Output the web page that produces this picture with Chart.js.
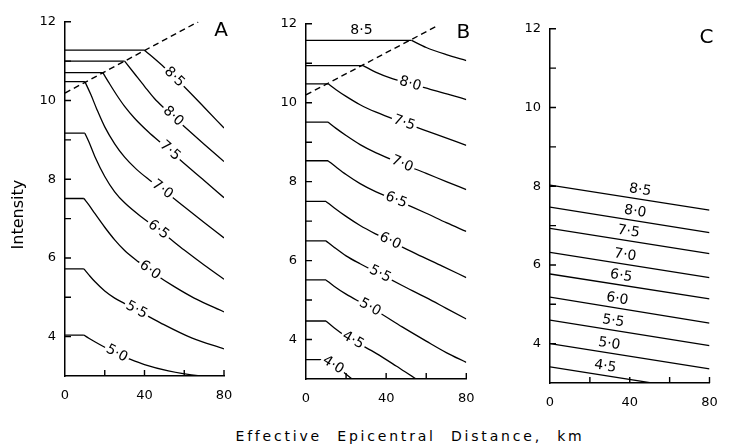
<!DOCTYPE html>
<html lang="en">
<head>
  <meta charset="UTF-8">
  <title>Intensity vs Effective Epicentral Distance</title>
  <script src="https://cdn.jsdelivr.net/npm/chart.js"></script>
  <style>
    body { margin: 0; background: #fff; }
    #wrap { position: relative; width: 734px; height: 447px; overflow: hidden; background: #fff; }
    #wrap canvas { position: absolute; }
    #xtitle {
      position: absolute; top: 428px; left: 0; width: 820px; text-align: center;
      font: 14px "DejaVu Sans", sans-serif; letter-spacing: 2.8px; word-spacing: 8px; color: #000;
    }
  </style>
</head>
<body>
  <div id="wrap">
    <div id="xtitle">Effective Epicentral Distance, km</div>
  </div>
  <script>
    // axes
    const distTicks = [0, 20, 40, 60, 80];
    const distLabels = [0, 40, 80];
    const intensityRange = [3, 12];
    const intensityLabels = [4, 6, 8, 10, 12];
    const magnitudes = ['8·5', '8·0', '7·5', '7·0', '6·5', '6·0', '5·5', '5·0', '4·5', '4·0'];

    // Panel A  [distance km, intensity]
    const a85 = [[0, 11.28], [40, 11.28], [50, 10.84], [60, 10.35], [70, 9.83], [80, 9.3]];
    const a80 = [[0, 11.0], [30, 11.0], [35, 10.68], [40, 10.36], [45, 10.05], [50, 9.8], [60, 9.34], [70, 8.89], [80, 8.45]];
    const a75 = [[0, 10.71], [19, 10.71], [22, 10.46], [26, 10.14], [30, 9.85], [35, 9.55], [42, 9.2], [50, 8.85], [60, 8.4], [70, 7.97], [80, 7.53]];
    const a70 = [[0, 10.48], [10, 10.48], [13, 10.15], [16, 9.78], [20, 9.33], [25, 8.9], [30, 8.56], [36, 8.25], [42, 8.0], [50, 7.7], [60, 7.3], [70, 6.9], [80, 6.51]];
    const a65 = [[0, 9.17], [10, 9.17], [12, 8.95], [15, 8.58], [20, 8.07], [25, 7.68], [30, 7.4], [40, 6.98], [50, 6.6], [60, 6.2], [70, 5.82], [80, 5.46]];
    const a60 = [[0, 7.51], [9.5, 7.51], [12, 7.35], [15, 7.13], [20, 6.78], [25, 6.46], [30, 6.19], [37, 5.9], [45, 5.6], [55, 5.27], [65, 4.98], [80, 4.63]];
    const a55 = [[0, 5.72], [9.5, 5.72], [12, 5.57], [15, 5.4], [20, 5.16], [25, 4.98], [30, 4.84], [36, 4.68], [48, 4.35], [64, 3.96], [80, 3.69]];
    const a50 = [[0, 4.04], [9.5, 4.04], [12, 3.96], [15, 3.87], [20, 3.73], [26, 3.57], [33, 3.42], [40, 3.29], [52, 3.13], [68, 3.0], [80, 2.95]];
    const dashA = [[0, 10.19], [67, 12.0]];

    // Panel B
    const b85 = [[0, 11.58], [52.7, 11.58], [60, 11.4], [70, 11.22], [80, 11.07]];
    const b80 = [[0, 10.94], [28.5, 10.94], [35, 10.77], [42, 10.63], [52, 10.48], [62, 10.34], [72, 10.2], [80, 10.08]];
    const b75 = [[0, 10.48], [11, 10.48], [15, 10.33], [20, 10.16], [27, 9.95], [35, 9.76], [45, 9.56], [55, 9.38], [65, 9.2], [80, 8.92]];
    const b70 = [[0, 9.51], [11, 9.51], [15, 9.35], [20, 9.17], [27, 8.94], [35, 8.73], [48, 8.45], [60, 8.21], [70, 8.0], [80, 7.8]];
    const b65 = [[0, 8.53], [11, 8.53], [15, 8.37], [20, 8.18], [27, 7.95], [35, 7.74], [48, 7.47], [60, 7.2], [70, 6.96], [80, 6.74]];
    const b60 = [[0, 7.5], [10, 7.5], [14, 7.34], [20, 7.12], [27, 6.89], [35, 6.67], [45, 6.42], [55, 6.17], [68, 5.86], [80, 5.57]];
    const b55 = [[0, 6.5], [10, 6.5], [14, 6.34], [20, 6.12], [27, 5.92], [37, 5.66], [48, 5.37], [60, 5.06], [70, 4.79], [80, 4.52]];
    const b50 = [[0, 5.51], [10, 5.51], [14, 5.35], [20, 5.15], [27, 4.95], [35, 4.73], [48, 4.32], [60, 3.96], [70, 3.67], [80, 3.42]];
    const b45 = [[0, 4.47], [10, 4.47], [14, 4.3], [20, 4.08], [27, 3.88], [35, 3.65], [45, 3.33], [55, 3.0], [62, 2.78]];
    const b40 = [[0, 3.49], [8.5, 3.49], [12, 3.4], [17, 3.24], [23, 3.0], [28, 2.82]];
    const dashB = [[0, 10.2], [66, 11.96]];

    // Panel C
    const c85 = [[0, 8.03], [80, 7.39]];
    const c80 = [[0, 7.47], [80, 6.82]];
    const c75 = [[0, 6.93], [80, 6.29]];
    const c70 = [[0, 6.32], [80, 5.68]];
    const c65 = [[0, 5.77], [80, 5.14]];
    const c60 = [[0, 5.18], [80, 4.52]];
    const c55 = [[0, 4.6], [80, 3.95]];
    const c50 = [[0, 4.0], [80, 3.36]];
    const c45 = [[0, 3.41], [80, 2.77]];

    // layout of the three panels (plot area in page px) and where the curve labels sit
    const panels = [
      { id: 'A', curves: [a85, a80, a75, a70, a65, a60, a55, a50], dash: dashA, flat: true,
        area: { l: 65, t: 15, r: 224, b: 376 }, yW: 65, yTitle: true,
        labels: [[55, 0], [54.4, 0], [52.8, 0], [49, 0], [47, 0], [42.7, 0], [36, 0], [26, 0]] },
      { id: 'B', curves: [b85, b80, b75, b70, b65, b60, b55, b50, b45, b40], dash: dashB, flat: true,
        area: { l: 306, t: 17.3, r: 466.3, b: 379.3 }, yW: 48, yTitle: false,
        labels: [[27.7, -10], [52, 0], [49, 0], [48, 0], [45, 0], [42, 0], [37, 0], [32, 0], [23.5, 0], [13.5, 0]] },
      { id: 'C', curves: [c85, c80, c75, c70, c65, c60, c55, c50, c45], dash: null, flat: false,
        area: { l: 549.5, t: 21.7, r: 709, b: 382.7 }, yW: 48, yTitle: false,
        labels: [[44.5, -9], [42, -9], [38.7, -9], [37, -9], [35, -9], [33, -9], [31, -9], [29, -9], [27, -9]] }
    ];

    const FONT = '"DejaVu Sans", sans-serif';
    const toXY = pts => pts.map(p => ({ x: p[0], y: p[1] }));

    function buildDatasets(p) {
      const ds = [];
      p.curves.forEach(pts => {
        if (p.flat) {
          ds.push({ data: toXY(pts.slice(0, 2)), borderColor: '#000', borderWidth: 1.3, pointRadius: 0, tension: 0 });
          ds.push({ data: toXY(pts.slice(1)), borderColor: '#000', borderWidth: 1.3, pointRadius: 0, cubicInterpolationMode: 'monotone' });
        } else {
          ds.push({ data: toXY(pts), borderColor: '#000', borderWidth: 1.3, pointRadius: 0, tension: 0 });
        }
      });
      if (p.dash) {
        ds.push({ data: toXY(p.dash), borderColor: '#000', borderWidth: 1.4, borderDash: [6, 4], pointRadius: 0, tension: 0 });
      }
      return ds;
    }

    // inward ticks, curve labels, panel letter and (for A) the y title
    function decor(p) {
      return {
        id: 'decor' + p.id,
        afterDatasetsDraw(chart) {
          const { ctx, chartArea, scales: { x, y } } = chart;
          ctx.save();
          ctx.strokeStyle = '#000';
          ctx.lineWidth = 1.4;
          ctx.beginPath();
          distTicks.forEach(v => {
            if (v === 0) return;
            const px = x.getPixelForValue(v);
            ctx.moveTo(px, chartArea.bottom);
            ctx.lineTo(px, chartArea.bottom - 6);
          });
          for (let v = intensityRange[0] + 1; v <= intensityRange[1]; v++) {
            const py = y.getPixelForValue(v);
            ctx.moveTo(chartArea.left, py);
            ctx.lineTo(chartArea.left + 6, py);
          }
          ctx.stroke();

          ctx.font = '14px ' + FONT;
          ctx.textAlign = 'center';
          ctx.textBaseline = 'middle';
          p.labels.forEach(([d, off], i) => {
            const pts = p.curves[i];
            let k = 1;
            while (k < pts.length - 1 && pts[k][0] < d) k++;
            const [x0, y0] = pts[k - 1], [x1, y1] = pts[k];
            const t = (d - x0) / (x1 - x0);
            const px = x.getPixelForValue(d);
            const py = y.getPixelForValue(y0 + t * (y1 - y0));
            const ang = Math.atan2(y.getPixelForValue(y1) - y.getPixelForValue(y0),
                                   x.getPixelForValue(x1) - x.getPixelForValue(x0));
            const txt = magnitudes[i];
            const w = ctx.measureText(txt).width;
            ctx.save();
            ctx.translate(px, py);
            ctx.rotate(ang);
            ctx.translate(0, off);
            if (off === 0) {
              ctx.fillStyle = '#fff';
              ctx.fillRect(-w / 2 - 2, -7, w + 4, 14);
            }
            ctx.fillStyle = '#000';
            ctx.fillText(txt, 0, 0);
            ctx.restore();
          });

          ctx.font = '20px ' + FONT;
          ctx.fillStyle = '#000';
          ctx.textAlign = 'right';
          ctx.fillText(p.id, chartArea.right + 4, chartArea.top + 9);

          if (p.yTitle) {
            ctx.save();
            ctx.font = '16px ' + FONT;
            ctx.textAlign = 'center';
            ctx.translate(19, y.getPixelForValue(7.1));
            ctx.rotate(-Math.PI / 2);
            ctx.fillText('Intensity', 0, 0);
            ctx.restore();
          }
          ctx.restore();
        }
      };
    }

    const wrap = document.getElementById('wrap');
    const padTop = 10, padRight = 22, padBottom = 8, xH = 32;

    panels.forEach(p => {
      const left = p.area.l - p.yW;
      const top = p.area.t - padTop;
      const w = Math.round(p.area.r - left + padRight);
      const h = Math.round(p.area.b - top + xH + padBottom);
      const cv = document.createElement('canvas');
      cv.width = w;
      cv.height = h;
      cv.style.left = left + 'px';
      cv.style.top = top + 'px';
      cv.style.width = w + 'px';
      cv.style.height = h + 'px';
      wrap.appendChild(cv);

      new Chart(cv, {
        type: 'line',
        data: { datasets: buildDatasets(p) },
        options: {
          responsive: false,
          animation: false,
          parsing: false,
          layout: { padding: { left: 0, top: padTop, right: w - (p.area.r - left), bottom: padBottom } },
          plugins: { legend: { display: false }, tooltip: { enabled: false } },
          scales: {
            x: {
              type: 'linear', min: 0, max: 80,
              afterFit: s => { s.height = xH; },
              grid: { display: false, drawTicks: false },
              border: { display: true, color: '#000', width: 1.5 },
              afterBuildTicks: s => { s.ticks = distTicks.map(v => ({ value: v })); },
              ticks: {
                padding: 12, color: '#000', font: { family: FONT, size: 13 }, maxRotation: 0,
                callback: v => distLabels.includes(v) ? String(v) : ''
              }
            },
            y: {
              type: 'linear', min: intensityRange[0], max: intensityRange[1],
              afterFit: s => { s.width = p.yW; },
              grid: { display: false, drawTicks: false },
              border: { display: true, color: '#000', width: 1.5 },
              ticks: {
                stepSize: 1, padding: 9, color: '#000', font: { family: FONT, size: 13 },
                callback: v => intensityLabels.includes(v) ? String(v) : ''
              }
            }
          }
        },
        plugins: [decor(p)]
      });
    });
  </script>
</body>
</html>
